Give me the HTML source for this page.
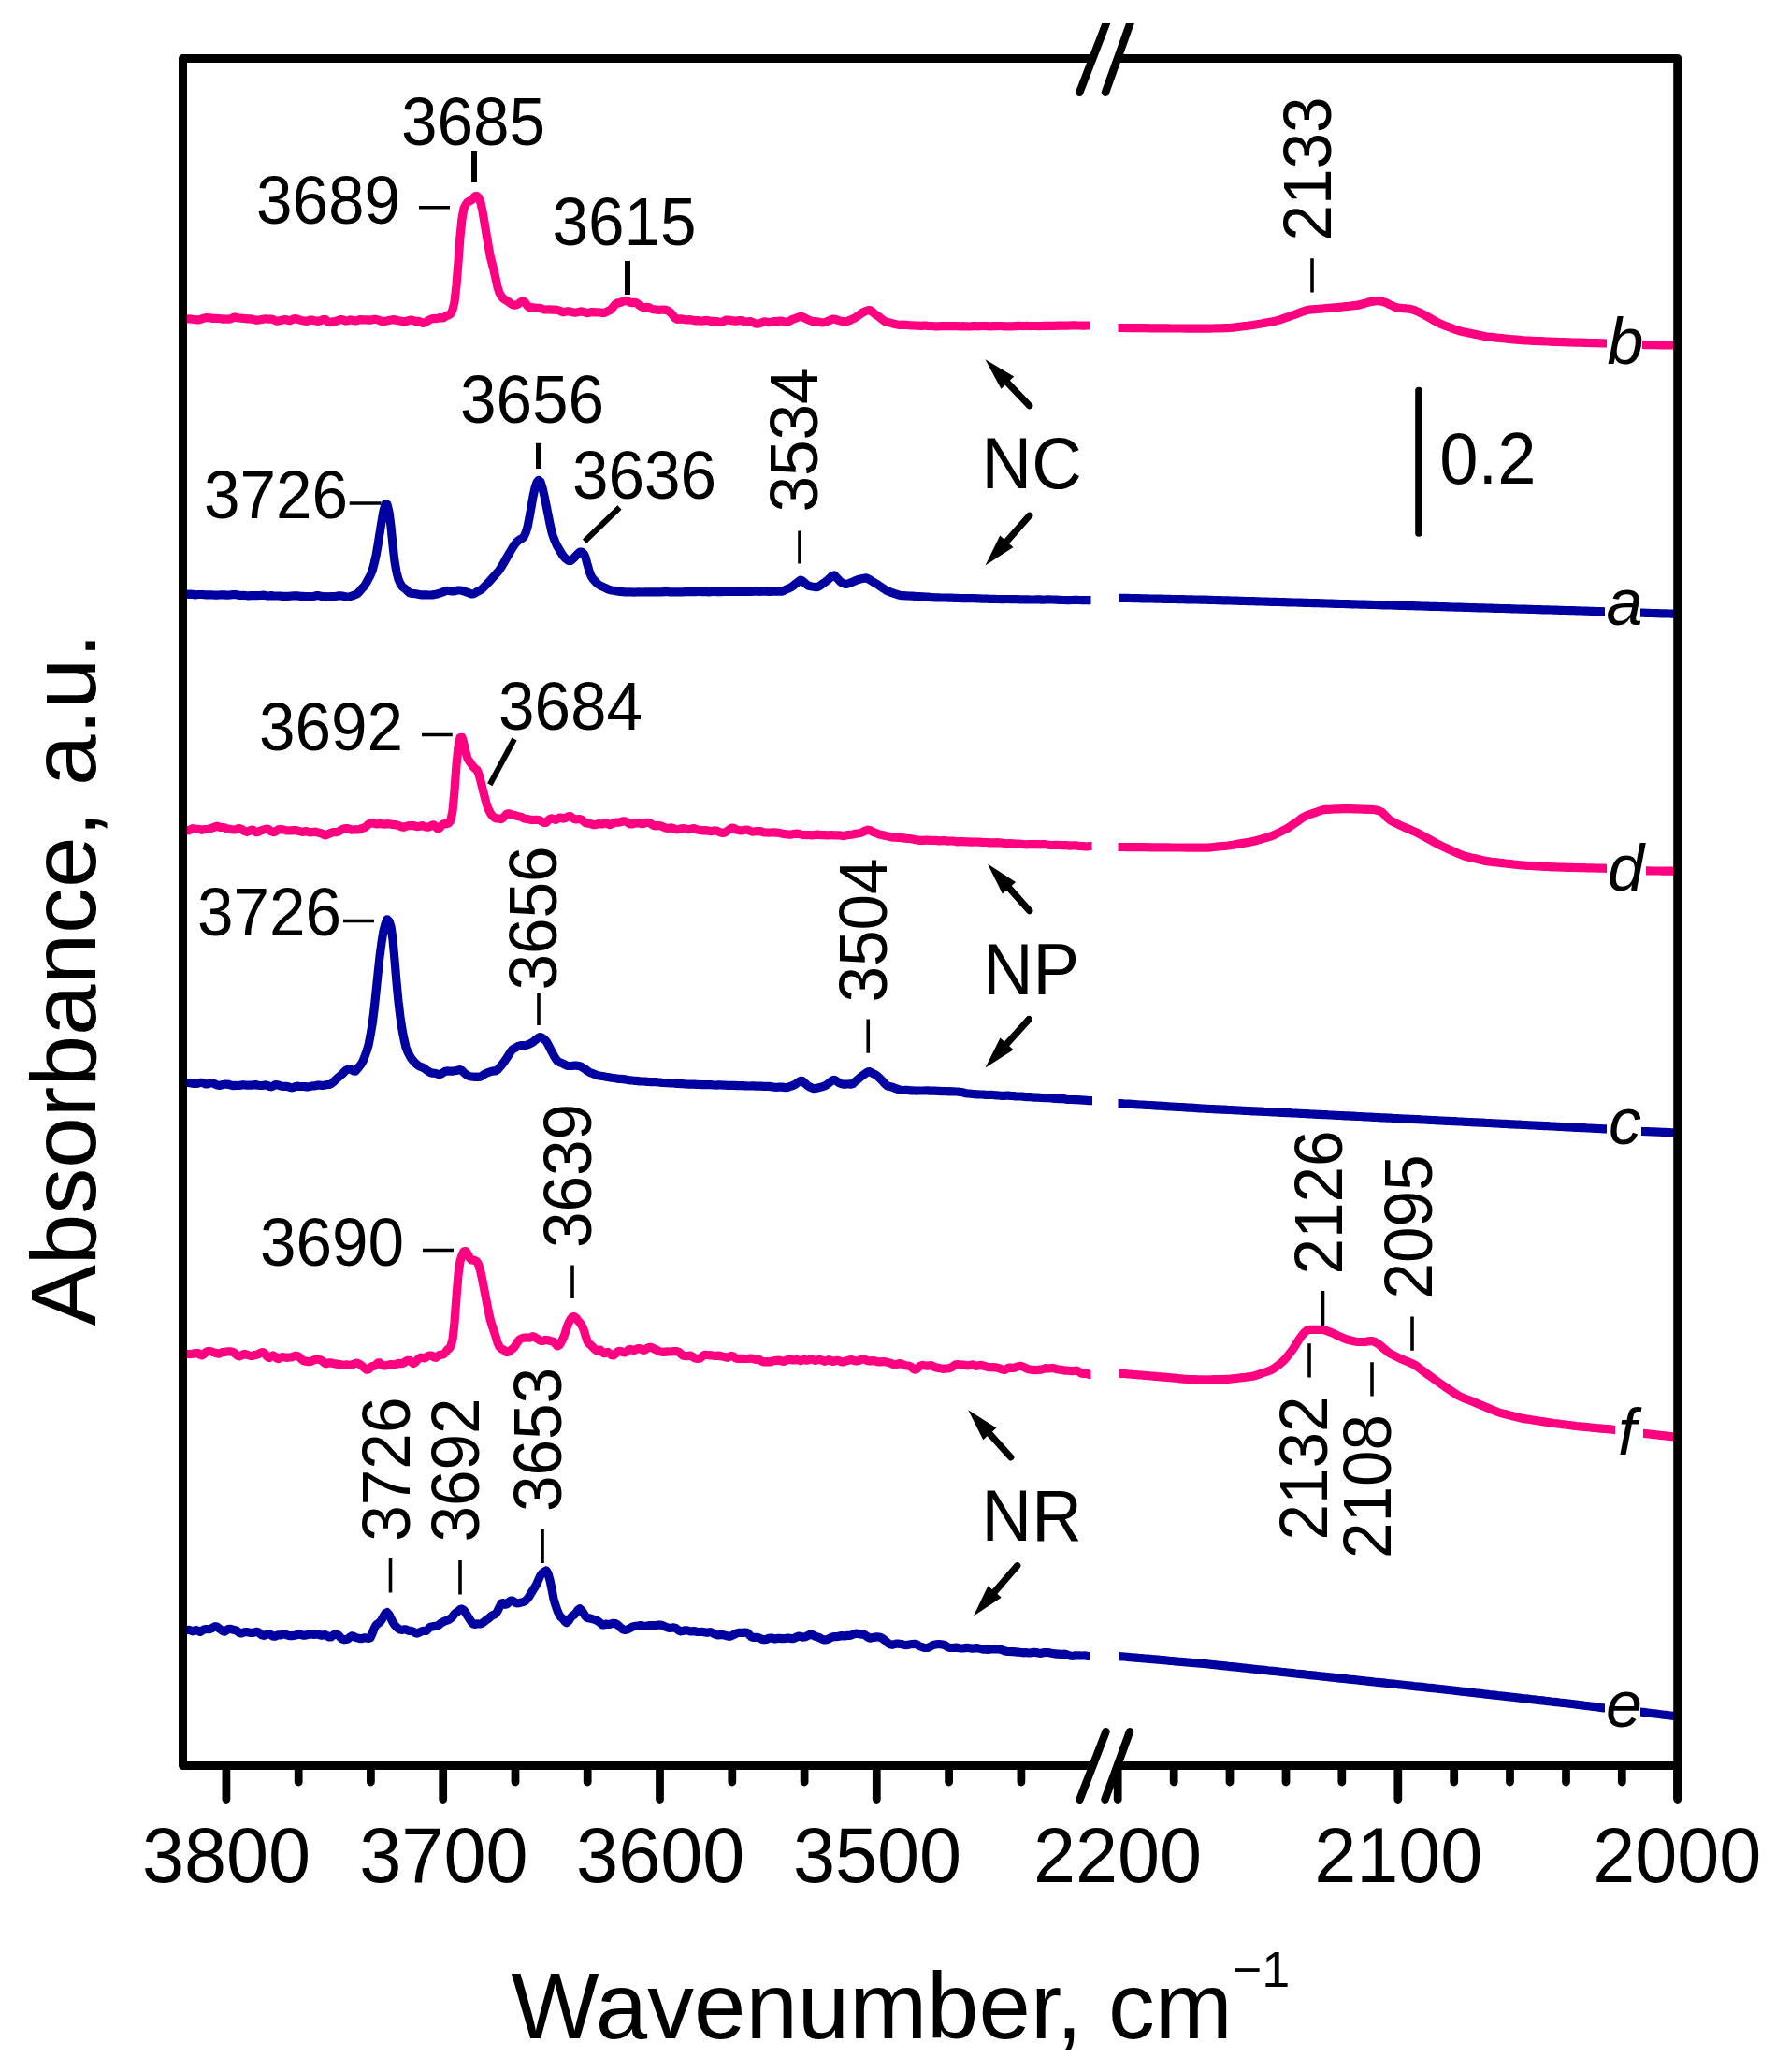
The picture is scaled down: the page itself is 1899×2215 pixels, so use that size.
<!DOCTYPE html>
<html lang="en"><head><meta charset="utf-8"><title>FTIR spectra</title>
<style>
html,body{margin:0;padding:0;background:#fff;}
svg{display:block;}
text{font-family:"Liberation Sans",Arial,Helvetica,sans-serif;fill:#000;}
.i{font-style:italic;}
.c{fill:none;stroke-width:9.2;stroke-linejoin:round;stroke-linecap:butt;}
.p{stroke:#ff0080;}
.b{stroke:#0000a0;}
.k{stroke:#000;fill:none;}
</style></head><body>
<svg width="1899" height="2215" viewBox="0 0 1899 2215" role="img" aria-label="FTIR spectra">
<rect x="0" y="0" width="1899" height="2215" fill="#fff"/>
<defs>
<clipPath id="clip-b"><rect x="200" y="0" width="965.5" height="2215"/><rect x="1195.5" y="0" width="522.5" height="2215"/><rect x="1756" y="0" width="34" height="2215"/></clipPath>
<clipPath id="clip-a"><rect x="200" y="0" width="966.5" height="2215"/><rect x="1196.5" y="0" width="519.5" height="2215"/><rect x="1754" y="0" width="36" height="2215"/></clipPath>
<clipPath id="clip-d"><rect x="200" y="0" width="967.5" height="2215"/><rect x="1195.5" y="0" width="522.5" height="2215"/><rect x="1760" y="0" width="30" height="2215"/></clipPath>
<clipPath id="clip-c"><rect x="200" y="0" width="968" height="2215"/><rect x="1195.5" y="0" width="522.5" height="2215"/><rect x="1755" y="0" width="35" height="2215"/></clipPath>
<clipPath id="clip-f"><rect x="200" y="0" width="966.5" height="2215"/><rect x="1196.5" y="0" width="530.5" height="2215"/><rect x="1757" y="0" width="33" height="2215"/></clipPath>
<clipPath id="clip-e"><rect x="200" y="0" width="965" height="2215"/><rect x="1196.5" y="0" width="519.5" height="2215"/><rect x="1754" y="0" width="36" height="2215"/></clipPath>
</defs>
<!-- spectrum b -->
<g clip-path="url(#clip-b)">
<polyline class="c p" points="195,341 200,341 202,340.8 204,341 206,341.3 208,341.5 210,341.8 212,341.9 214,341.5 216,340.8 218,340.1 220,339.6 222,339.7 224,339.8 226,340.1 228,340.4 230,340.4 232,340.4 234,340.5 236,340.8 238,341.1 240,341.2 242,341.2 244,341.1 246,341.1 248,340.3 250,339.1 252,339.2 254,339.8 256,340 258,340.2 260,340.3 262,340.5 264,340.9 266,340.9 268,340.9 270,341.2 272,341.8 274,342.2 276,342.1 278,341.8 280,341.4 282,341 284,340.8 286,341 288,341.2 290,341.1 292,341.5 294,342.5 296,343.2 298,343 300,342.5 302,342.1 304,341.7 306,341.7 308,342.3 310,342.8 312,342 314,340.9 316,340.7 318,341.1 320,341.8 322,342.4 324,342.9 326,343.2 328,343.3 330,342.6 332,342 334,342.2 336,342.7 338,343 340,343.4 342,343 344,342.1 346,341.5 348,341.7 350,343.3 352,344.6 354,344.3 356,343.8 358,343.7 360,343.1 362,342.3 364,341.7 366,341.6 368,342.5 370,343.1 372,342.7 374,341.9 376,342.1 378,342.7 380,342.9 382,342.6 384,341.9 386,341.6 388,342 390,341.9 392,341.8 394,342.2 396,342.2 398,341.7 400,341.4 402,341.4 404,341.9 406,342.8 408,343.3 410,343.4 412,343.3 414,343 416,342.5 418,342.1 420,341.7 422,341.7 424,342.2 426,342.7 428,343.1 430,343.5 432,343.6 434,343.5 436,343.1 438,342.3 440,342 442,342.7 444,343.4 446,343.4 448,343.4 450,344.3 452,345.3 454,345.1 456,343.9 458,342.6 460,341.6 462,340.8 464,340.4 466,340.6 468,340.2 470,339.6 472,339.9 474,339.8 476,338.5 478,337.3 480,336.6 482,335.3 484,331.1 486,322.7 488,304.7 490,280 492,252.8 494,233.6 496,222.8 498,218.7 500,216 502,214.9 504,214.1 506,212.1 508,209.7 510,209.7 512,211.6 514,216.7 516,226.1 518,238.1 520,249.9 522,261.8 524,273.1 526,281.2 528,288.8 530,297.6 532,307 534,313 536,316.6 538,319 540,320.4 542,321.6 544,322.8 546,324.4 548,325.8 550,326.1 552,325.9 554,325.1 556,323.6 558,322.2 560,322.1 562,324.1 564,326.9 566,328.6 568,328.7 570,328.8 572,329.2 574,329.4 576,329.3 578,329.4 580,330.2 582,331 584,331 586,330.8 588,330.9 590,331.1 592,331 594,331.1 596,331.5 598,331.9 600,332.9 602,333.7 604,333.4 606,332.9 608,332.8 610,333.2 612,333.7 614,334.1 616,334.1 618,333.6 620,333.1 622,332.9 624,333.3 626,334 628,334.6 630,334.3 632,333.6 634,333.6 636,333.9 638,333.9 640,333.8 642,334 644,334.5 646,334.4 648,333.6 650,332.5 652,331.7 654,330.2 656,327.7 658,325.3 660,323.9 662,323.8 664,323.2 666,322 668,321.4 670,321.6 672,322.3 674,323.3 676,323.6 678,323.4 680,323.5 682,324.8 684,326.7 686,328 688,328.7 690,328.8 692,328.3 694,328.8 696,330 698,330.7 700,330.8 702,331 704,331.4 706,331.3 708,331 710,331.1 712,331.4 714,332.1 716,333.2 718,335.2 720,337.7 722,340.2 724,341.3 726,341.1 728,340.9 730,341.1 732,341.6 734,341.8 736,341.8 738,341.7 740,342 742,342.6 744,342.9 746,342.7 748,342.8 750,343.1 752,343 754,342.5 756,342.4 758,342.8 760,343.4 762,343.3 764,343.3 766,343.7 768,343.9 770,344.3 772,344.3 774,343.3 776,342.2 778,342 780,342.3 782,342.6 784,342.8 786,343.1 788,343.1 790,342.7 792,342.5 794,343 796,343.8 798,344.1 800,343.8 802,343.5 804,344.1 806,345.1 808,346 810,346.1 812,345.8 814,345.2 816,344.3 818,343.8 820,344.3 822,344.8 824,344.5 826,343.9 828,343.7 830,343.6 832,343.3 834,343.1 836,343.2 838,343.7 840,344.1 842,344.1 844,343.4 846,342.2 848,341.2 850,340.5 852,339.8 854,338.9 856,338.3 858,338.7 860,339.7 862,340.8 864,341.7 866,342.5 868,343.3 870,343.7 872,343.8 874,343.9 876,344.2 878,344.6 880,344.8 882,344.5 884,343.8 886,343 888,342.1 890,341.2 892,341 894,341.7 896,342.4 898,342.9 900,343.3 902,343.7 904,343.9 906,343.4 908,342.7 910,341.8 912,340.9 914,339.9 916,338.6 918,337.2 920,335.7 922,334.4 924,333.2 926,332.4 928,331.8 930,331.5 932,332.7 934,334.5 936,336.1 938,337.4 940,338.8 942,340.4 944,342 946,343.4 948,344.1 950,344.6 952,345.2 954,345.8 956,346.3 958,346.7 960,347.1 962,347.3 964,347.3 966,347.2 968,347.3 970,347.5 972,347.7 974,347.8 976,347.9 978,348 980,348.1 982,348.2 984,348.3 986,348.3 988,348.2 990,348.2 992,348.4 994,348.5 996,348.5 998,348.7 1000,348.8 1002,348.9 1004,348.8 1006,348.7 1008,348.6 1010,348.6 1012,348.6 1014,348.6 1016,348.6 1018,348.6 1020,348.5 1022,348.6 1024,348.7 1026,348.8 1028,348.8 1030,348.7 1032,348.8 1034,348.9 1036,349 1038,348.9 1040,348.7 1042,348.7 1044,348.7 1046,348.8 1048,348.7 1050,348.5 1052,348.5 1054,348.6 1056,348.7 1058,348.8 1060,348.8 1062,348.7 1064,348.6 1066,348.6 1068,348.5 1070,348.5 1072,348.7 1074,348.8 1076,348.8 1078,348.9 1080,348.9 1082,348.8 1084,348.7 1086,348.6 1088,348.4 1090,348.3 1092,348.5 1094,348.6 1096,348.5 1098,348.4 1100,348.5 1102,348.6 1104,348.5 1106,348.5 1108,348.5 1110,348.6 1112,348.6 1114,348.5 1116,348.3 1118,348.3 1120,348.3 1122,348.3 1124,348.3 1126,348.3 1128,348.3 1130,348.2 1132,348.2 1134,348.2 1136,348.1 1138,348 1140,348.1 1142,348.1 1144,348 1146,347.9 1148,347.8 1150,347.9 1152,348 1154,348 1156,348.1 1158,348.1 1160,348.1 1162,348 1164,348 1165.5,348 1170.5,348"/>
<polyline class="c p" points="1190.5,350.5 1195.5,350.5 1198.5,350.5 1201.5,350.5 1204.5,350.6 1207.5,350.6 1210.5,350.6 1213.5,350.6 1216.5,350.7 1219.5,350.7 1222.5,350.7 1225.5,350.7 1228.5,350.8 1231.5,350.8 1234.5,350.8 1237.5,350.8 1240.5,350.9 1243.5,350.9 1246.5,350.9 1249.5,350.9 1252.5,351 1255.5,351 1258.5,351 1261.5,351 1264.5,351 1267.5,351.1 1270.5,351.1 1273.5,351.1 1276.5,351.1 1279.5,351.2 1282.5,351.2 1285.5,351.2 1288.5,351.2 1291.5,351.2 1294.5,351.1 1297.5,351 1300.5,350.9 1303.5,350.8 1306.5,350.8 1309.5,350.7 1312.5,350.6 1315.5,350.4 1318.5,350.1 1321.5,349.7 1324.5,349.4 1327.5,349 1330.5,348.6 1333.5,348.3 1336.5,347.9 1339.5,347.5 1342.5,347 1345.5,346.5 1348.5,346 1351.5,345.4 1354.5,344.9 1357.5,344.3 1360.5,343.8 1363.5,343.2 1366.5,342.4 1369.5,341.5 1372.5,340.4 1375.5,339.4 1378.5,338.4 1381.5,337.3 1384.5,336.2 1387.5,335.1 1390.5,333.9 1393.5,332.8 1396.5,331.8 1399.5,331.2 1402.5,330.9 1405.5,330.7 1408.5,330.5 1411.5,330.2 1414.5,330 1417.5,329.7 1420.5,329.4 1423.5,329.2 1426.5,328.8 1429.5,328.6 1432.5,328.3 1435.5,328 1438.5,327.7 1441.5,327.4 1444.5,327 1447.5,326.7 1450.5,326.4 1453.5,325.9 1456.5,325 1459.5,324.2 1462.5,323.3 1465.5,322.5 1468.5,322.1 1471.5,321.7 1474.5,321.6 1477.5,322.1 1480.5,323.1 1483.5,324.3 1486.5,325.8 1489.5,327.2 1492.5,328.4 1495.5,329 1498.5,329.3 1501.5,329.7 1504.5,330 1507.5,330.3 1510.5,330.9 1513.5,332.1 1516.5,333.4 1519.5,334.8 1522.5,336.4 1525.5,338.1 1528.5,339.8 1531.5,341.5 1534.5,343.2 1537.5,344.8 1540.5,346.3 1543.5,347.6 1546.5,348.7 1549.5,349.8 1552.5,350.9 1555.5,352.1 1558.5,353.1 1561.5,354 1564.5,354.7 1567.5,355.3 1570.5,355.9 1573.5,356.6 1576.5,357.2 1579.5,357.8 1582.5,358.4 1585.5,359.1 1588.5,359.7 1591.5,360.1 1594.5,360.4 1597.5,360.7 1600.5,361.1 1603.5,361.4 1606.5,361.7 1609.5,362 1612.5,362.3 1615.5,362.6 1618.5,362.8 1621.5,363.1 1624.5,363.4 1627.5,363.7 1630.5,363.9 1633.5,364 1636.5,364.2 1639.5,364.3 1642.5,364.5 1645.5,364.6 1648.5,364.7 1651.5,364.9 1654.5,365 1657.5,365.1 1660.5,365.3 1663.5,365.4 1666.5,365.5 1669.5,365.6 1672.5,365.7 1675.5,365.8 1678.5,365.9 1681.5,366 1684.5,366.1 1687.5,366.1 1690.5,366.2 1693.5,366.3 1696.5,366.4 1699.5,366.5 1702.5,366.6 1705.5,366.7 1708.5,366.7 1711.5,366.8 1714.5,366.9 1717.5,367 1720.5,367.1 1723.5,367.2 1726.5,367.4 1729.5,367.5 1732.5,367.6 1735.5,367.7 1738.5,367.8 1741.5,367.9 1744.5,368.1 1747.5,368.2 1750.5,368.3 1753.5,368.4 1756.5,368.5 1759.5,368.6 1762.5,368.6 1765.5,368.6 1768.5,368.7 1771.5,368.7 1774.5,368.8 1777.5,368.8 1780.5,368.9 1783.5,368.9 1786.5,368.9 1789.5,369 1790,369 1795,369"/>
</g>
<!-- spectrum a -->
<g clip-path="url(#clip-a)">
<polyline class="c b" points="195,635 200,635 202,635.4 204,635.2 206,635.3 208,635.8 210,635.8 212,635.5 214,635.5 216,635.5 218,635.7 220,635.8 222,635.8 224,635.8 226,635.8 228,636 230,636.2 232,636.2 234,636 236,635.8 238,635.8 240,635.9 242,636.1 244,636.2 246,636 248,635.7 250,635.5 252,635.6 254,636 256,636.4 258,636.5 260,636.4 262,636.5 264,636.8 266,636.8 268,636.6 270,636.6 272,636.7 274,636.7 276,636.6 278,636.5 280,636.3 282,636.2 284,636.6 286,637 288,636.9 290,636.7 292,636.9 294,637 296,637 298,637 300,637.2 302,637.4 304,637.3 306,637.3 308,637.3 310,637.2 312,637 314,636.9 316,636.8 318,636.9 320,637.2 322,637.4 324,637.3 326,637.5 328,637.5 330,637.5 332,637.5 334,637.5 336,637.2 338,636.7 340,636.6 342,637 344,637.4 346,637.7 348,637.8 350,637.7 352,637.8 354,637.7 356,637.6 358,637.5 360,637.2 362,636.9 364,636.8 366,637.1 368,637.5 370,637.9 372,638 374,637.7 376,637.1 378,636.4 380,635.6 382,634.7 384,632.8 386,630.4 388,628.2 390,625.9 392,622.5 394,618.7 396,615 398,610.3 400,602.9 402,594.2 404,582.9 406,570.3 408,557.7 410,546.2 412,539.2 414,539.3 416,547.4 418,562.6 420,582.7 422,600.1 424,611.6 426,619.4 428,623.8 430,627 432,628.6 434,630 436,632.1 438,633.9 440,634.4 442,634.5 444,634.7 446,635 448,635.4 450,635.8 452,635.8 454,635.8 456,635.9 458,636 460,636 462,635.9 464,635.6 466,635.3 468,634.8 470,634.2 472,633.5 474,632.7 476,631.9 478,631.4 480,631.5 482,631.8 484,632 486,631.8 488,631.3 490,631 492,631 494,631.3 496,632 498,632.7 500,633.2 502,634.1 504,634.8 506,635 508,634 510,632.6 512,631.5 514,630.6 516,629 518,627 520,625 522,622.9 524,620.8 526,618.5 528,616.2 530,614.1 532,611.8 534,609.3 536,606.2 538,602.8 540,599.4 542,595.9 544,592.4 546,589 548,585.7 550,582.5 552,580.1 554,578.1 556,576.7 558,575.7 560,574 562,569.8 564,563.5 566,553.5 568,542.2 570,530.8 572,521.7 574,515.7 576,513.3 578,515.2 580,521.6 582,530.1 584,539.9 586,549.8 588,559.9 590,569.1 592,575.1 594,580 596,584.2 598,587.5 600,590.8 602,594 604,596.4 606,598.1 608,599.5 610,599.5 612,598 614,596.1 616,594 618,591.9 620,590.1 622,590 624,591.7 626,595.6 628,603.3 630,610.2 632,615.7 634,618.9 636,621 638,623.1 640,624.9 642,626.1 644,627 646,627.9 648,628.8 650,629.9 652,630.5 654,631 656,631.3 658,631.7 660,632 662,632.3 664,632.4 666,632.6 668,632.8 670,632.9 672,633 674,632.9 676,633 678,633.1 680,633 682,632.9 684,632.9 686,633 688,633 690,632.9 692,632.8 694,632.8 696,632.8 698,632.9 700,632.9 702,632.9 704,632.9 706,632.9 708,632.8 710,632.6 712,632.6 714,632.7 716,632.8 718,632.8 720,632.8 722,632.8 724,632.8 726,632.8 728,632.8 730,632.8 732,632.7 734,632.6 736,632.6 738,632.7 740,632.6 742,632.6 744,632.6 746,632.5 748,632.5 750,632.6 752,632.6 754,632.6 756,632.7 758,632.8 760,632.6 762,632.5 764,632.5 766,632.6 768,632.7 770,632.7 772,632.6 774,632.5 776,632.5 778,632.5 780,632.5 782,632.5 784,632.5 786,632.4 788,632.4 790,632.4 792,632.3 794,632.3 796,632.3 798,632.4 800,632.4 802,632.4 804,632.3 806,632.2 808,632.2 810,632.2 812,632.3 814,632.2 816,632.1 818,632.1 820,632.2 822,632.3 824,632.3 826,632.1 828,632 830,632.1 832,632.1 834,632.1 836,632.1 838,631.4 840,630.4 842,629.5 844,628.7 846,627.7 848,626.3 850,624.7 852,623.1 854,621.5 856,620.2 858,620.9 860,622.6 862,624.4 864,626 866,626.6 868,627 870,627.3 872,627.6 874,627.6 876,626.6 878,625.3 880,623.8 882,622.4 884,620.9 886,619.2 888,617.3 890,615.4 892,614.9 894,616.8 896,619 898,621.2 900,622.7 902,623.8 904,624.6 906,624.2 908,623.5 910,622.7 912,621.9 914,621 916,620.1 918,619.5 920,619 922,618.6 924,618.2 926,617.9 928,618.6 930,619.8 932,621 934,622.3 936,623.5 938,624.6 940,626 942,627.3 944,628.7 946,630 948,631.3 950,632.2 952,632.9 954,633.7 956,634.4 958,635 960,635.8 962,636.3 964,636.6 966,636.7 968,636.9 970,636.9 972,637 974,637.1 976,637.2 978,637.3 980,637.5 982,637.7 984,637.7 986,637.8 988,637.9 990,638 992,638.1 994,638.3 996,638.6 998,638.7 1000,638.8 1002,638.8 1004,638.9 1006,639 1008,639 1010,639 1012,639 1014,639.1 1016,639.1 1018,639.2 1020,639.3 1022,639.4 1024,639.4 1026,639.5 1028,639.6 1030,639.6 1032,639.6 1034,639.7 1036,639.7 1038,639.7 1040,639.7 1042,639.7 1044,639.8 1046,639.8 1048,639.9 1050,640.1 1052,640.2 1054,640.2 1056,640.2 1058,640.3 1060,640.3 1062,640.4 1064,640.4 1066,640.5 1068,640.5 1070,640.6 1072,640.6 1074,640.6 1076,640.5 1078,640.5 1080,640.6 1082,640.7 1084,640.7 1086,640.7 1088,640.7 1090,640.8 1092,640.8 1094,640.8 1096,640.8 1098,640.8 1100,640.9 1102,641 1104,641 1106,641 1108,640.8 1110,640.8 1112,640.9 1114,641.1 1116,641.1 1118,641 1120,640.9 1122,640.9 1124,641 1126,641 1128,641.1 1130,641.2 1132,641.3 1134,641.4 1136,641.5 1138,641.5 1140,641.6 1142,641.6 1144,641.6 1146,641.5 1148,641.4 1150,641.4 1152,641.4 1154,641.5 1156,641.6 1158,641.7 1160,641.7 1162,641.7 1164,641.7 1166,641.7 1166.5,641.7 1171.5,641.7"/>
<polyline class="c b" points="1191.5,639.3 1196.5,639.3 1199.5,639.3 1202.5,639.4 1205.5,639.4 1208.5,639.5 1211.5,639.6 1214.5,639.6 1217.5,639.7 1220.5,639.8 1223.5,639.8 1226.5,639.9 1229.5,640 1232.5,640 1235.5,640.1 1238.5,640.1 1241.5,640.2 1244.5,640.3 1247.5,640.3 1250.5,640.4 1253.5,640.5 1256.5,640.5 1259.5,640.6 1262.5,640.7 1265.5,640.7 1268.5,640.8 1271.5,640.9 1274.5,640.9 1277.5,641 1280.5,641 1283.5,641.1 1286.5,641.2 1289.5,641.2 1292.5,641.3 1295.5,641.4 1298.5,641.5 1301.5,641.6 1304.5,641.7 1307.5,641.8 1310.5,641.9 1313.5,641.9 1316.5,642 1319.5,642.1 1322.5,642.2 1325.5,642.3 1328.5,642.4 1331.5,642.5 1334.5,642.6 1337.5,642.6 1340.5,642.7 1343.5,642.8 1346.5,642.9 1349.5,643 1352.5,643.1 1355.5,643.2 1358.5,643.3 1361.5,643.3 1364.5,643.4 1367.5,643.5 1370.5,643.6 1373.5,643.7 1376.5,643.8 1379.5,643.9 1382.5,644 1385.5,644 1388.5,644.1 1391.5,644.2 1394.5,644.3 1397.5,644.4 1400.5,644.5 1403.5,644.6 1406.5,644.7 1409.5,644.7 1412.5,644.8 1415.5,644.9 1418.5,645 1421.5,645.1 1424.5,645.2 1427.5,645.3 1430.5,645.4 1433.5,645.5 1436.5,645.5 1439.5,645.6 1442.5,645.7 1445.5,645.8 1448.5,645.9 1451.5,646 1454.5,646.1 1457.5,646.2 1460.5,646.2 1463.5,646.3 1466.5,646.4 1469.5,646.5 1472.5,646.6 1475.5,646.7 1478.5,646.8 1481.5,646.9 1484.5,646.9 1487.5,647 1490.5,647.1 1493.5,647.2 1496.5,647.3 1499.5,647.4 1502.5,647.5 1505.5,647.6 1508.5,647.6 1511.5,647.7 1514.5,647.8 1517.5,647.9 1520.5,648 1523.5,648.1 1526.5,648.2 1529.5,648.3 1532.5,648.3 1535.5,648.4 1538.5,648.5 1541.5,648.6 1544.5,648.7 1547.5,648.8 1550.5,648.9 1553.5,649 1556.5,649.1 1559.5,649.1 1562.5,649.2 1565.5,649.3 1568.5,649.4 1571.5,649.5 1574.5,649.6 1577.5,649.7 1580.5,649.8 1583.5,649.8 1586.5,649.9 1589.5,650 1592.5,650.1 1595.5,650.2 1598.5,650.3 1601.5,650.4 1604.5,650.5 1607.5,650.5 1610.5,650.6 1613.5,650.7 1616.5,650.8 1619.5,650.9 1622.5,651 1625.5,651.1 1628.5,651.2 1631.5,651.2 1634.5,651.3 1637.5,651.4 1640.5,651.5 1643.5,651.6 1646.5,651.7 1649.5,651.8 1652.5,651.9 1655.5,651.9 1658.5,652 1661.5,652.1 1664.5,652.2 1667.5,652.3 1670.5,652.4 1673.5,652.5 1676.5,652.6 1679.5,652.7 1682.5,652.7 1685.5,652.8 1688.5,652.9 1691.5,653 1694.5,653.1 1697.5,653.2 1700.5,653.3 1703.5,653.4 1706.5,653.5 1709.5,653.6 1712.5,653.7 1715.5,653.8 1718.5,653.9 1721.5,654 1724.5,654.1 1727.5,654.2 1730.5,654.3 1733.5,654.4 1736.5,654.5 1739.5,654.6 1742.5,654.7 1745.5,654.8 1748.5,654.9 1751.5,655 1754.5,655.1 1757.5,655.2 1760.5,655.3 1763.5,655.4 1766.5,655.5 1769.5,655.6 1772.5,655.7 1775.5,655.8 1778.5,655.8 1781.5,655.9 1784.5,656 1787.5,656.1 1790,656.2 1795,656.2"/>
</g>
<!-- spectrum d -->
<g clip-path="url(#clip-d)">
<polyline class="c p" points="195,887.5 200,887.5 202,887.8 204,886.7 206,885.7 208,886 210,886.3 212,886.3 214,886.7 216,887.2 218,886.8 220,886.5 222,886.5 224,886.1 226,885.3 228,884.7 230,883.8 232,883.2 234,883.9 236,884.5 238,884.5 240,884.8 242,885.6 244,886.1 246,886.4 248,886.7 250,887 252,886.9 254,886 256,885.5 258,886.3 260,887.5 262,888.7 264,889.3 266,888.7 268,887.5 270,887.1 272,888.2 274,889.7 276,889.4 278,888.3 280,887.5 282,886.9 284,886.3 286,886.1 288,887.2 290,888.8 292,889.6 294,889.3 296,887.8 298,886.5 300,886.5 302,886.8 304,887.2 306,887.8 308,888 310,887.9 312,887.8 314,887.6 316,887.5 318,888 320,888.6 322,889.2 324,889.3 326,888.7 328,888.6 330,889.5 332,889.9 334,889.5 336,889.2 338,889.4 340,890.1 342,890.5 344,891 346,892.1 348,892.8 350,892.2 352,891.2 354,890.3 356,889.6 358,889.5 360,889.6 362,889.1 364,887.7 366,886.6 368,886 370,885.5 372,885.6 374,886.5 376,887.3 378,887 380,886.7 382,886.8 384,886.6 386,885.9 388,885.2 390,884.6 392,883.1 394,881.1 396,880.1 398,880 400,880.2 402,880.8 404,880.8 406,880.5 408,880.6 410,881.1 412,881.1 414,880.7 416,880.8 418,881.1 420,881.3 422,881.5 424,882 426,882.4 428,883.2 430,884.1 432,884.2 434,883.4 436,882.9 438,882.7 440,882.6 442,882.5 444,883 446,883.6 448,883.5 450,882.8 452,882.7 454,883.5 456,884.2 458,884.1 460,883.4 462,882.1 464,881.9 466,884.1 468,886.1 470,885.2 472,882.7 474,881 476,880.6 478,880.6 480,879.7 482,876.9 484,866.7 486,844.8 488,817.7 490,798.2 492,788.6 494,788.3 496,795.2 498,803.9 500,811 502,814 504,816.7 506,819.7 508,821.6 510,823.1 512,827.6 514,835.2 516,843.2 518,851.1 520,858.7 522,864.4 524,868.6 526,871.6 528,873.6 530,874.8 532,874.8 534,875.3 536,875.6 538,874.2 540,872.1 542,870 544,869.7 546,870.5 548,871.1 550,871.5 552,872.1 554,872.7 556,873 558,873.7 560,874.9 562,875.3 564,875.5 566,876 568,876.4 570,876.5 572,876.3 574,876.3 576,876.5 578,877.3 580,878.6 582,879.5 584,879.3 586,877.2 588,875.4 590,874.9 592,875.6 594,876.3 596,875.6 598,874.2 600,874.1 602,875.1 604,874.8 606,873.6 608,872.7 610,872.7 612,874.2 614,875.6 616,876 618,875.7 620,875.6 622,876.3 624,878 626,879.6 628,880.1 630,880.2 632,880.8 634,881.6 636,881.7 638,881.2 640,880.5 642,880.8 644,880.9 646,880.1 648,879.8 650,880.9 652,881.6 654,880.9 656,879.7 658,879.2 660,879.2 662,879.2 664,878.6 666,877.9 668,877.9 670,878.5 672,879.9 674,881 676,881 678,880.4 680,879.8 682,879.6 684,880.1 686,880.7 688,880.5 690,879.7 692,879.3 694,879.6 696,880.6 698,882 700,882.9 702,882.7 704,882.5 706,882.8 708,883.4 710,884.2 712,885.1 714,885.6 716,885.1 718,884.9 720,885.5 722,886.4 724,886.9 726,886.4 728,885.8 730,885.7 732,885.8 734,886.2 736,886.7 738,886.5 740,885.8 742,885.6 744,886.4 746,887.1 748,887.4 750,887.7 752,887.9 754,887.7 756,887.8 758,888.3 760,888.7 762,888.4 764,887.8 766,888 768,888.9 770,889.8 772,890.3 774,890.3 776,889.3 778,888.1 780,886.6 782,885.3 784,885 786,886.1 788,887.1 790,887.6 792,887.8 794,887.6 796,887.3 798,887 800,887.3 802,888.3 804,889.1 806,889.1 808,888.7 810,888.6 812,888.6 814,888.9 816,889.6 818,889.9 820,890 822,890.2 824,890 826,889.9 828,889.9 830,890.1 832,890.2 834,890.6 836,891.1 838,891.5 840,891.7 842,892 844,892.2 846,892.1 848,891.6 850,891.3 852,891.2 854,891.4 856,891.9 858,892.3 860,892.5 862,892.6 864,892.5 866,892.6 868,892.8 870,892.7 872,892.3 874,892.1 876,892.3 878,892.6 880,892.6 882,892.6 884,892.8 886,892.8 888,892.7 890,892.7 892,892.8 894,892.9 896,892.8 898,892.8 900,893.4 902,893.6 904,893.2 906,892.5 908,892.3 910,892.3 912,892 914,891.5 916,891.1 918,890.8 920,890.4 922,889.8 924,888.7 926,887.8 928,887.2 930,887.5 932,888.6 934,889.6 936,890.3 938,891.1 940,891.9 942,892.3 944,892.8 946,893.3 948,893.7 950,894.1 952,894.7 954,895.1 956,895.2 958,895.2 960,895.3 962,895.4 964,895.7 966,895.9 968,896.2 970,896.3 972,896.5 974,896.7 976,897 978,897.5 980,897.9 982,898.1 984,898.3 986,898.4 988,898.3 990,898.2 992,898.2 994,898.3 996,898.3 998,898.3 1000,898.3 1002,898.6 1004,898.9 1006,898.8 1008,898.5 1010,898.6 1012,899 1014,899.1 1016,899 1018,899 1020,899.2 1022,899.6 1024,899.8 1026,899.6 1028,899.5 1030,899.6 1032,899.8 1034,899.8 1036,899.9 1038,900.1 1040,900.2 1042,900 1044,900 1046,900.1 1048,900.2 1050,900.4 1052,900.5 1054,900.5 1056,900.6 1058,900.8 1060,900.9 1062,900.9 1064,900.8 1066,900.7 1068,900.8 1070,901 1072,901.2 1074,901.5 1076,901.8 1078,901.7 1080,901.5 1082,901.7 1084,902 1086,902.2 1088,902.2 1090,902.2 1092,902.3 1094,902.5 1096,902.8 1098,902.8 1100,902.7 1102,902.6 1104,902.6 1106,902.6 1108,902.7 1110,902.7 1112,902.8 1114,902.7 1116,902.6 1118,902.7 1120,903 1122,903.3 1124,903.5 1126,903.5 1128,903.4 1130,903.3 1132,903.3 1134,903.5 1136,903.7 1138,903.6 1140,903.7 1142,903.9 1144,904.1 1146,904 1148,903.8 1150,903.8 1152,904.1 1154,904.3 1156,904.5 1158,904.7 1160,904.9 1162,905 1164,904.7 1166,904.5 1167.5,904.5 1172.5,904.5"/>
<polyline class="c p" points="1190.5,905.5 1195.5,905.5 1198.5,905.5 1201.5,905.5 1204.5,905.6 1207.5,905.6 1210.5,905.6 1213.5,905.6 1216.5,905.7 1219.5,905.7 1222.5,905.7 1225.5,905.7 1228.5,905.8 1231.5,905.8 1234.5,905.8 1237.5,905.8 1240.5,905.9 1243.5,905.9 1246.5,905.9 1249.5,905.9 1252.5,906 1255.5,906 1258.5,906 1261.5,906 1264.5,906 1267.5,906.1 1270.5,906.1 1273.5,906.1 1276.5,906.1 1279.5,906.2 1282.5,906.2 1285.5,906.2 1288.5,906.2 1291.5,906.1 1294.5,905.8 1297.5,905.5 1300.5,905.2 1303.5,904.9 1306.5,904.6 1309.5,904.3 1312.5,904 1315.5,903.6 1318.5,903.2 1321.5,902.6 1324.5,902.1 1327.5,901.6 1330.5,901.1 1333.5,900.6 1336.5,900.1 1339.5,899.5 1342.5,898.8 1345.5,897.9 1348.5,897.1 1351.5,896.2 1354.5,895.3 1357.5,894.4 1360.5,893.4 1363.5,892 1366.5,890.5 1369.5,889 1372.5,887.5 1375.5,886 1378.5,884.2 1381.5,882.1 1384.5,880 1387.5,877.9 1390.5,875.7 1393.5,873.7 1396.5,872.1 1399.5,870.9 1402.5,869.9 1405.5,868.8 1408.5,867.8 1411.5,866.7 1414.5,865.9 1417.5,865.4 1420.5,865.3 1423.5,865.2 1426.5,865 1429.5,864.9 1432.5,864.8 1435.5,864.7 1438.5,864.6 1441.5,864.6 1444.5,864.7 1447.5,864.8 1450.5,864.9 1453.5,865 1456.5,865.1 1459.5,865.2 1462.5,865.3 1465.5,865.4 1468.5,865.5 1471.5,866 1474.5,866.8 1477.5,868.2 1480.5,871 1483.5,874.3 1486.5,876.8 1489.5,878.5 1492.5,880 1495.5,881.5 1498.5,882.9 1501.5,884.2 1504.5,885.5 1507.5,886.8 1510.5,888.1 1513.5,889.4 1516.5,890.9 1519.5,892.5 1522.5,894.1 1525.5,895.8 1528.5,897.4 1531.5,899.1 1534.5,900.7 1537.5,902.4 1540.5,903.9 1543.5,905.3 1546.5,906.7 1549.5,908 1552.5,909.4 1555.5,910.7 1558.5,912.1 1561.5,913.4 1564.5,914.6 1567.5,915.6 1570.5,916.3 1573.5,917 1576.5,917.6 1579.5,918.3 1582.5,919 1585.5,919.7 1588.5,920.4 1591.5,920.9 1594.5,921.3 1597.5,921.6 1600.5,921.9 1603.5,922.3 1606.5,922.6 1609.5,923 1612.5,923.3 1615.5,923.6 1618.5,924 1621.5,924.3 1624.5,924.7 1627.5,925 1630.5,925.2 1633.5,925.3 1636.5,925.5 1639.5,925.6 1642.5,925.8 1645.5,926 1648.5,926.1 1651.5,926.3 1654.5,926.4 1657.5,926.6 1660.5,926.8 1663.5,926.9 1666.5,927 1669.5,927.1 1672.5,927.2 1675.5,927.3 1678.5,927.3 1681.5,927.4 1684.5,927.5 1687.5,927.6 1690.5,927.6 1693.5,927.7 1696.5,927.8 1699.5,927.9 1702.5,927.9 1705.5,928 1708.5,928.1 1711.5,928.2 1714.5,928.2 1717.5,928.3 1720.5,928.5 1723.5,928.7 1726.5,928.9 1729.5,929 1732.5,929.2 1735.5,929.4 1738.5,929.6 1741.5,929.8 1744.5,930 1747.5,930.1 1750.5,930.3 1753.5,930.5 1756.5,930.7 1759.5,930.8 1762.5,930.9 1765.5,931 1768.5,931 1771.5,931 1774.5,931 1777.5,931.1 1780.5,931.1 1783.5,931.1 1786.5,931.2 1789.5,931.2 1790,931.2 1795,931.2"/>
</g>
<!-- spectrum c -->
<g clip-path="url(#clip-c)">
<polyline class="c b" points="195,1157.5 200,1157.5 202,1157.5 204,1157.9 206,1158.2 208,1158.5 210,1158.5 212,1158 214,1157.4 216,1157.3 218,1158.1 220,1159 222,1158.9 224,1158.1 226,1157.6 228,1158.1 230,1159 232,1159.9 234,1160.4 236,1160.2 238,1159.6 240,1159.2 242,1159.1 244,1159.3 246,1159.8 248,1160.4 250,1160.6 252,1160.4 254,1160.5 256,1160.4 258,1160 260,1159.7 262,1160 264,1160.2 266,1160.1 268,1160.2 270,1160.1 272,1159.7 274,1159.7 276,1160.2 278,1160.5 280,1160.5 282,1160.2 284,1159.9 286,1160.4 288,1161.4 290,1161.8 292,1161 294,1159.9 296,1159.6 298,1160.2 300,1160.9 302,1161.3 304,1161.4 306,1161.3 308,1161.7 310,1162.4 312,1162.8 314,1162.4 316,1161.5 318,1161.2 320,1161.4 322,1161.5 324,1161.5 326,1161.6 328,1161.9 330,1161.9 332,1161.4 334,1160.9 336,1161 338,1160.6 340,1160 342,1160.1 344,1160.5 346,1160.4 348,1159.9 350,1159.5 352,1159.5 354,1158.6 356,1157.1 358,1155.2 360,1153.2 362,1151.5 364,1149.9 366,1148.1 368,1146 370,1144 372,1143.3 374,1143 376,1143.6 378,1144.9 380,1145.1 382,1142.9 384,1140.4 386,1137.9 388,1134.5 390,1129.3 392,1123.9 394,1117.3 396,1107 398,1095.3 400,1079.9 402,1060.8 404,1041.5 406,1022.8 408,1007.6 410,995.1 412,987.7 414,982.8 416,984.6 418,990.6 420,1004.3 422,1026.1 424,1049.9 426,1070.7 428,1087.4 430,1100.6 432,1110.9 434,1119.6 436,1124.6 438,1128.4 440,1131.8 442,1134.2 444,1136.3 446,1138.2 448,1139.6 450,1140.5 452,1141.2 454,1142.4 456,1143.9 458,1145.3 460,1146.5 462,1147.1 464,1147.2 466,1147.5 468,1148.2 470,1148.7 472,1148 474,1146.6 476,1145.3 478,1144.9 480,1145.1 482,1145.1 484,1145.1 486,1144.8 488,1144.4 490,1144 492,1143.6 494,1144.5 496,1146.6 498,1148.4 500,1149.7 502,1150.6 504,1150.9 506,1151.1 508,1151.3 510,1151.2 512,1151.4 514,1151 516,1149.8 518,1148.3 520,1147.3 522,1146.5 524,1145.8 526,1145.2 528,1144.9 530,1144.8 532,1143.6 534,1141.4 536,1139.1 538,1136.5 540,1133.8 542,1130.8 544,1127.6 546,1124.4 548,1121.9 550,1120.7 552,1119.6 554,1118.4 556,1117.9 558,1117.7 560,1117.7 562,1117.5 564,1116.9 566,1116.2 568,1115.2 570,1113.9 572,1112.2 574,1110.6 576,1109.1 578,1108.5 580,1109.6 582,1111.1 584,1113 586,1116.5 588,1120.4 590,1124.4 592,1128.1 594,1131.5 596,1134.2 598,1135.4 600,1136.2 602,1137 604,1138.2 606,1139.2 608,1139.5 610,1139.5 612,1139.4 614,1139.2 616,1139.1 618,1139.3 620,1139.7 622,1140.7 624,1141.9 626,1143.2 628,1144.7 630,1146.1 632,1147 634,1147.7 636,1148.5 638,1149.3 640,1150 642,1150.2 644,1150.5 646,1150.8 648,1151.2 650,1151.5 652,1151.9 654,1152.2 656,1152.5 658,1152.8 660,1153.1 662,1153.3 664,1153.4 666,1153.6 668,1153.8 670,1154.2 672,1154.6 674,1154.8 676,1155 678,1155.3 680,1155.4 682,1155.6 684,1155.8 686,1156 688,1156 690,1156.1 692,1156.3 694,1156.5 696,1156.6 698,1156.6 700,1156.6 702,1156.7 704,1157 706,1157.2 708,1157.4 710,1157.5 712,1157.6 714,1157.7 716,1157.8 718,1157.9 720,1158 722,1158.2 724,1158.4 726,1158.5 728,1158.6 730,1158.7 732,1158.8 734,1159 736,1159.1 738,1159.1 740,1159.1 742,1159.1 744,1159.3 746,1159.4 748,1159.5 750,1159.6 752,1159.7 754,1159.6 756,1159.6 758,1159.6 760,1159.7 762,1159.9 764,1160 766,1160.1 768,1159.9 770,1159.8 772,1160 774,1160.1 776,1160.2 778,1160.3 780,1160.4 782,1160.4 784,1160.4 786,1160.4 788,1160.6 790,1160.6 792,1160.6 794,1160.6 796,1160.8 798,1160.9 800,1161 802,1161 804,1160.9 806,1160.9 808,1161.1 810,1161.2 812,1161.2 814,1161.1 816,1161.3 818,1161.4 820,1161.4 822,1161.4 824,1161.6 826,1162 828,1162.2 830,1162.3 832,1162.2 834,1162 836,1162.1 838,1162.4 840,1162.7 842,1162.5 844,1161.7 846,1161.1 848,1160.4 850,1159.4 852,1158 854,1156.6 856,1155.4 858,1155.6 860,1157.3 862,1159.2 864,1160.9 866,1162.1 868,1162.9 870,1163.6 872,1163.5 874,1163.1 876,1162.6 878,1162.1 880,1161.6 882,1160.8 884,1159.6 886,1158.1 888,1156.5 890,1154.9 892,1154.3 894,1155.4 896,1156.8 898,1158 900,1158.8 902,1159.1 904,1159.2 906,1159 908,1158.9 910,1159.1 912,1158.5 914,1156.7 916,1154.9 918,1153.3 920,1151.6 922,1150 924,1148.6 926,1147.2 928,1145.9 930,1145.7 932,1146.8 934,1147.8 936,1148.8 938,1150.2 940,1152.1 942,1154.1 944,1156.1 946,1158.3 948,1160.3 950,1161.3 952,1161.6 954,1162.2 956,1162.9 958,1163.7 960,1164.4 962,1165.1 964,1165.5 966,1165.5 968,1165.3 970,1165.4 972,1165.7 974,1165.8 976,1165.9 978,1166 980,1166.1 982,1166 984,1166 986,1166 988,1166 990,1165.9 992,1165.9 994,1166.1 996,1166.2 998,1166.2 1000,1166.2 1002,1166.3 1004,1166.4 1006,1166.6 1008,1166.6 1010,1166.6 1012,1166.7 1014,1166.8 1016,1166.7 1018,1166.8 1020,1166.9 1022,1167 1024,1167.1 1026,1167.3 1028,1167.5 1030,1167.9 1032,1168.6 1034,1168.9 1036,1169 1038,1169.2 1040,1169.5 1042,1169.7 1044,1169.9 1046,1169.9 1048,1170 1050,1170 1052,1170.1 1054,1170.3 1056,1170.5 1058,1170.4 1060,1170.4 1062,1170.5 1064,1170.8 1066,1170.9 1068,1171 1070,1171.3 1072,1171.4 1074,1171.3 1076,1171.2 1078,1171.2 1080,1171.3 1082,1171.5 1084,1171.7 1086,1171.9 1088,1172 1090,1172 1092,1172 1094,1172.2 1096,1172.5 1098,1172.6 1100,1172.7 1102,1172.7 1104,1172.8 1106,1173.1 1108,1173.2 1110,1173.2 1112,1173.3 1114,1173.5 1116,1173.6 1118,1173.6 1120,1173.7 1122,1173.7 1124,1173.9 1126,1174.1 1128,1174.3 1130,1174.5 1132,1174.6 1134,1174.6 1136,1174.5 1138,1174.7 1140,1175.2 1142,1175.5 1144,1175.5 1146,1175.5 1148,1175.6 1150,1175.6 1152,1175.7 1154,1175.8 1156,1175.9 1158,1176.1 1160,1176.2 1162,1176.4 1164,1176.6 1166,1176.7 1168,1176.7 1173,1176.7"/>
<polyline class="c b" points="1190.5,1179.5 1195.5,1179.5 1198.5,1179.7 1201.5,1179.9 1204.5,1180 1207.5,1180.2 1210.5,1180.4 1213.5,1180.6 1216.5,1180.8 1219.5,1181 1222.5,1181.1 1225.5,1181.3 1228.5,1181.5 1231.5,1181.7 1234.5,1181.9 1237.5,1182.1 1240.5,1182.2 1243.5,1182.4 1246.5,1182.6 1249.5,1182.8 1252.5,1183 1255.5,1183.2 1258.5,1183.3 1261.5,1183.5 1264.5,1183.7 1267.5,1183.9 1270.5,1184.1 1273.5,1184.2 1276.5,1184.4 1279.5,1184.6 1282.5,1184.8 1285.5,1185 1288.5,1185.2 1291.5,1185.3 1294.5,1185.5 1297.5,1185.6 1300.5,1185.8 1303.5,1185.9 1306.5,1186.1 1309.5,1186.2 1312.5,1186.4 1315.5,1186.5 1318.5,1186.7 1321.5,1186.8 1324.5,1187 1327.5,1187.2 1330.5,1187.3 1333.5,1187.5 1336.5,1187.6 1339.5,1187.8 1342.5,1187.9 1345.5,1188.1 1348.5,1188.2 1351.5,1188.4 1354.5,1188.5 1357.5,1188.7 1360.5,1188.8 1363.5,1189 1366.5,1189.1 1369.5,1189.3 1372.5,1189.4 1375.5,1189.6 1378.5,1189.7 1381.5,1189.9 1384.5,1190 1387.5,1190.2 1390.5,1190.3 1393.5,1190.5 1396.5,1190.6 1399.5,1190.8 1402.5,1191 1405.5,1191.1 1408.5,1191.3 1411.5,1191.4 1414.5,1191.6 1417.5,1191.7 1420.5,1191.9 1423.5,1192 1426.5,1192.2 1429.5,1192.3 1432.5,1192.5 1435.5,1192.6 1438.5,1192.8 1441.5,1192.9 1444.5,1193.1 1447.5,1193.2 1450.5,1193.4 1453.5,1193.5 1456.5,1193.7 1459.5,1193.8 1462.5,1194 1465.5,1194.1 1468.5,1194.3 1471.5,1194.5 1474.5,1194.6 1477.5,1194.8 1480.5,1194.9 1483.5,1195.1 1486.5,1195.2 1489.5,1195.4 1492.5,1195.5 1495.5,1195.7 1498.5,1195.8 1501.5,1196 1504.5,1196.1 1507.5,1196.3 1510.5,1196.4 1513.5,1196.6 1516.5,1196.7 1519.5,1196.9 1522.5,1197 1525.5,1197.2 1528.5,1197.3 1531.5,1197.5 1534.5,1197.6 1537.5,1197.8 1540.5,1198 1543.5,1198.1 1546.5,1198.3 1549.5,1198.4 1552.5,1198.6 1555.5,1198.7 1558.5,1198.9 1561.5,1199 1564.5,1199.2 1567.5,1199.3 1570.5,1199.5 1573.5,1199.6 1576.5,1199.8 1579.5,1199.9 1582.5,1200.1 1585.5,1200.2 1588.5,1200.4 1591.5,1200.5 1594.5,1200.7 1597.5,1200.8 1600.5,1201 1603.5,1201.1 1606.5,1201.3 1609.5,1201.4 1612.5,1201.6 1615.5,1201.8 1618.5,1201.9 1621.5,1202.1 1624.5,1202.2 1627.5,1202.4 1630.5,1202.5 1633.5,1202.7 1636.5,1202.8 1639.5,1203 1642.5,1203.1 1645.5,1203.3 1648.5,1203.4 1651.5,1203.6 1654.5,1203.7 1657.5,1203.9 1660.5,1204 1663.5,1204.2 1666.5,1204.3 1669.5,1204.5 1672.5,1204.6 1675.5,1204.8 1678.5,1204.9 1681.5,1205.1 1684.5,1205.3 1687.5,1205.4 1690.5,1205.6 1693.5,1205.7 1696.5,1205.9 1699.5,1206 1702.5,1206.2 1705.5,1206.3 1708.5,1206.5 1711.5,1206.6 1714.5,1206.8 1717.5,1206.9 1720.5,1207.1 1723.5,1207.3 1726.5,1207.5 1729.5,1207.7 1732.5,1207.9 1735.5,1208.1 1738.5,1208.3 1741.5,1208.5 1744.5,1208.7 1747.5,1208.9 1750.5,1209.1 1753.5,1209.3 1756.5,1209.5 1759.5,1209.6 1762.5,1209.7 1765.5,1209.8 1768.5,1209.9 1771.5,1210.1 1774.5,1210.2 1777.5,1210.3 1780.5,1210.4 1783.5,1210.5 1786.5,1210.7 1789.5,1210.8 1790,1210.8 1795,1210.8"/>
</g>
<!-- spectrum f -->
<g clip-path="url(#clip-f)">
<polyline class="c p" points="195,1447.5 200,1447.5 202,1447.5 204,1447.6 206,1447.1 208,1446.8 210,1446.6 212,1446.7 214,1448.2 216,1448.9 218,1447.6 220,1445.7 222,1444.5 224,1444.4 226,1444.9 228,1445.6 230,1446.1 232,1446.8 234,1447.2 236,1446.3 238,1445.5 240,1445.3 242,1445.1 244,1444.9 246,1444.8 248,1445 250,1445.9 252,1447.6 254,1449.3 256,1449.8 258,1449.2 260,1447.8 262,1447.4 264,1448.2 266,1448.8 268,1449.4 270,1449.3 272,1448.6 274,1448.3 276,1447.6 278,1446.5 280,1445.7 282,1445.8 284,1447.9 286,1450.6 288,1451.5 290,1450.1 292,1449 294,1450 296,1452 298,1452.6 300,1451.2 302,1450.4 304,1450.9 306,1451.4 308,1451.2 310,1451 312,1450.8 314,1450 316,1449.2 318,1449.5 320,1450.7 322,1452.6 324,1454.5 326,1455.2 328,1455.2 330,1455.7 332,1455.5 334,1454.6 336,1453.9 338,1453 340,1452.9 342,1453.7 344,1454.5 346,1456 348,1457.7 350,1457.6 352,1456.8 354,1456.9 356,1457.5 358,1457.9 360,1458.1 362,1458.5 364,1458.7 366,1459.2 368,1459.4 370,1458.8 372,1459.1 374,1459.4 376,1459.1 378,1458.2 380,1457.4 382,1457.2 384,1458 386,1459.3 388,1461 390,1462.8 392,1464.2 394,1463.9 396,1461.9 398,1460.6 400,1460.3 402,1459.1 404,1456.9 406,1456.8 408,1458.9 410,1460 412,1459.9 414,1459.5 416,1459 418,1458.6 420,1458.9 422,1459.2 424,1458.2 426,1457.3 428,1457.6 430,1457.7 432,1456.7 434,1455.2 436,1454.3 438,1454.4 440,1456 442,1457.5 444,1456.4 446,1454.1 448,1452.2 450,1451.1 452,1451.6 454,1451.9 456,1450.6 458,1449.5 460,1449 462,1449.3 464,1450.9 466,1451.3 468,1449.7 470,1448.3 472,1448.3 474,1448 476,1446.1 478,1443.3 480,1441.8 482,1439 484,1431.8 486,1413.4 488,1386.3 490,1362.5 492,1348.1 494,1341.8 496,1337.8 498,1337.5 500,1340.3 502,1344.5 504,1346.9 506,1347 508,1347.6 510,1348.9 512,1352.7 514,1360 516,1369.5 518,1379.9 520,1390.1 522,1400.3 524,1409.7 526,1416.8 528,1422.5 530,1428.6 532,1435.5 534,1439.9 536,1441.7 538,1442.9 540,1444 542,1445.5 544,1445.2 546,1443.4 548,1441.9 550,1440.2 552,1436.8 554,1433.7 556,1431.6 558,1430.7 560,1430.3 562,1429.9 564,1430 566,1430.2 568,1429.4 570,1428.7 572,1429.5 574,1430.9 576,1432.2 578,1433.3 580,1433.5 582,1432.8 584,1432.4 586,1432.7 588,1433.4 590,1433.8 592,1434.4 594,1436.6 596,1438.8 598,1438.2 600,1434.8 602,1431 604,1425.9 606,1419.4 608,1414.1 610,1410.4 612,1408 614,1407.5 616,1408.9 618,1411.8 620,1414.1 622,1416.8 624,1421.2 626,1427.7 628,1433.7 630,1436.6 632,1438.3 634,1440.3 636,1442.2 638,1443.7 640,1443.4 642,1443.2 644,1445.2 646,1446.7 648,1445.8 650,1445.4 652,1447 654,1448.7 656,1448.8 658,1447.3 660,1445.4 662,1444.3 664,1444.5 666,1445.6 668,1446 670,1444.9 672,1443 674,1442.4 676,1443.1 678,1443.4 680,1442.7 682,1441.7 684,1441.6 686,1442.6 688,1443.4 690,1442.8 692,1441.2 694,1440.4 696,1440.4 698,1441.1 700,1442.2 702,1443.1 704,1444.1 706,1444.9 708,1445.4 710,1445.4 712,1445.1 714,1444.9 716,1445 718,1445 720,1444.6 722,1444.7 724,1444.7 726,1445.3 728,1447.3 730,1449 732,1449.5 734,1449.6 736,1449.4 738,1449 740,1449.9 742,1451.5 744,1452.2 746,1452.3 748,1452.2 750,1451 752,1449.1 754,1448.2 756,1448.5 758,1448.8 760,1448.7 762,1449 764,1449.5 766,1449.5 768,1449.1 770,1449.4 772,1450 774,1450.3 776,1450.9 778,1451.3 780,1450.4 782,1449.4 784,1449.9 786,1451.5 788,1452.4 790,1452.4 792,1452.4 794,1452.4 796,1452.5 798,1452.5 800,1452.4 802,1452.2 804,1452.2 806,1452.9 808,1453.4 810,1453.2 812,1453.6 814,1454.9 816,1455.8 818,1455.8 820,1455.6 822,1455.9 824,1455.8 826,1455.1 828,1454.6 830,1454.4 832,1454.2 834,1454.4 836,1455 838,1455.4 840,1454.7 842,1453.7 844,1453.2 846,1453.5 848,1454 850,1453.8 852,1453.3 854,1454 856,1454.7 858,1453.9 860,1453.4 862,1454.1 864,1453.9 866,1453.1 868,1453.1 870,1453.8 872,1454.4 874,1453.9 876,1453.3 878,1453.7 880,1454.7 882,1455.3 884,1454.5 886,1453.6 888,1454.2 890,1455.4 892,1455.2 894,1454.4 896,1454.3 898,1455.1 900,1455.8 902,1455.8 904,1455.2 906,1454.6 908,1454 910,1453.5 912,1453.9 914,1454.7 916,1455 918,1454.6 920,1453.6 922,1452.9 924,1453.2 926,1453.9 928,1454.7 930,1455.1 932,1454.7 934,1454.5 936,1455 938,1455.7 940,1455.9 942,1455.8 944,1455.7 946,1455.7 948,1456.1 950,1456.6 952,1457.1 954,1458 956,1458.9 958,1458.9 960,1458.1 962,1457.5 964,1458 966,1458.9 968,1459.7 970,1460 972,1460.2 974,1461.1 976,1462.8 978,1464.1 980,1463.7 982,1461.8 984,1460.2 986,1459.4 988,1459.7 990,1460.1 992,1460.2 994,1459.9 996,1459.7 998,1460.6 1000,1461.8 1002,1462.2 1004,1462.4 1006,1462.9 1008,1463.4 1010,1463.2 1012,1463 1014,1462.9 1016,1462.4 1018,1461.4 1020,1460 1022,1458.8 1024,1458.5 1026,1458.9 1028,1459.2 1030,1459.2 1032,1459.4 1034,1459.8 1036,1459.7 1038,1459.2 1040,1458.9 1042,1459.6 1044,1460.3 1046,1460 1048,1459.4 1050,1459.6 1052,1460.3 1054,1460.8 1056,1461.4 1058,1461.7 1060,1461.7 1062,1461.7 1064,1461.8 1066,1462.1 1068,1462.7 1070,1463.4 1072,1464.1 1074,1464.5 1076,1463.6 1078,1462.4 1080,1462.1 1082,1462.4 1084,1462.4 1086,1461.7 1088,1460.9 1090,1460.4 1092,1460.4 1094,1461.2 1096,1462.1 1098,1463.1 1100,1463.8 1102,1464.1 1104,1464.3 1106,1464.6 1108,1464.7 1110,1464.3 1112,1464.2 1114,1464.1 1116,1463.3 1118,1462.7 1120,1462.8 1122,1463 1124,1462.6 1126,1462.4 1128,1462.9 1130,1463.7 1132,1464.1 1134,1464.2 1136,1464.6 1138,1465 1140,1465.1 1142,1465.2 1144,1465.5 1146,1465.7 1148,1465.5 1150,1465.2 1152,1465.4 1154,1466.6 1156,1468 1158,1468.4 1160,1468.3 1162,1468.5 1164,1469.1 1166,1469.4 1166.5,1469.5 1171.5,1469.5"/>
<polyline class="c p" points="1191.5,1468.1 1196.5,1468.1 1199.5,1468.3 1202.5,1468.5 1205.5,1468.8 1208.5,1469 1211.5,1469.3 1214.5,1469.5 1217.5,1469.8 1220.5,1470 1223.5,1470.3 1226.5,1470.5 1229.5,1470.8 1232.5,1471 1235.5,1471.3 1238.5,1471.6 1241.5,1471.8 1244.5,1472.1 1247.5,1472.4 1250.5,1472.7 1253.5,1473 1256.5,1473.2 1259.5,1473.5 1262.5,1473.8 1265.5,1474.1 1268.5,1474.3 1271.5,1474.5 1274.5,1474.6 1277.5,1474.7 1280.5,1474.8 1283.5,1474.8 1286.5,1474.9 1289.5,1475 1292.5,1474.9 1295.5,1474.8 1298.5,1474.7 1301.5,1474.7 1304.5,1474.6 1307.5,1474.5 1310.5,1474.4 1313.5,1474.3 1316.5,1474 1319.5,1473.7 1322.5,1473.3 1325.5,1473 1328.5,1472.6 1331.5,1472.3 1334.5,1471.9 1337.5,1471.5 1340.5,1471 1343.5,1470.1 1346.5,1469.1 1349.5,1468 1352.5,1467 1355.5,1466 1358.5,1464.9 1361.5,1463.3 1364.5,1461.1 1367.5,1458.8 1370.5,1456.4 1373.5,1453.6 1376.5,1450 1379.5,1446.2 1382.5,1442.2 1385.5,1437.5 1388.5,1432.6 1391.5,1428.4 1394.5,1424.8 1397.5,1422.2 1400.5,1421.3 1403.5,1421.3 1406.5,1421.3 1409.5,1421.3 1412.5,1421.3 1415.5,1421.7 1418.5,1422.6 1421.5,1423.7 1424.5,1424.9 1427.5,1426.3 1430.5,1427.8 1433.5,1429.2 1436.5,1430.7 1439.5,1431.7 1442.5,1432.5 1445.5,1433.3 1448.5,1434 1451.5,1434.4 1454.5,1434.5 1457.5,1434.5 1460.5,1434.3 1463.5,1433.8 1466.5,1433.5 1469.5,1434.3 1472.5,1436 1475.5,1438.1 1478.5,1440.6 1481.5,1443.2 1484.5,1445.6 1487.5,1447.5 1490.5,1449 1493.5,1450.5 1496.5,1452 1499.5,1453.3 1502.5,1454.6 1505.5,1455.8 1508.5,1457.1 1511.5,1458.5 1514.5,1460.3 1517.5,1462.5 1520.5,1464.7 1523.5,1467 1526.5,1469.2 1529.5,1471.4 1532.5,1473.6 1535.5,1475.7 1538.5,1477.9 1541.5,1480 1544.5,1482.1 1547.5,1484.2 1550.5,1486.2 1553.5,1488.2 1556.5,1490.2 1559.5,1492 1562.5,1493.5 1565.5,1494.7 1568.5,1495.9 1571.5,1497.1 1574.5,1498.3 1577.5,1499.5 1580.5,1500.8 1583.5,1502 1586.5,1503.3 1589.5,1504.5 1592.5,1505.8 1595.5,1507.1 1598.5,1508.3 1601.5,1509.5 1604.5,1510.5 1607.5,1511.2 1610.5,1512 1613.5,1512.8 1616.5,1513.5 1619.5,1514.3 1622.5,1515 1625.5,1515.7 1628.5,1516.4 1631.5,1516.9 1634.5,1517.3 1637.5,1517.8 1640.5,1518.2 1643.5,1518.7 1646.5,1519.2 1649.5,1519.6 1652.5,1520.1 1655.5,1520.5 1658.5,1521 1661.5,1521.5 1664.5,1521.9 1667.5,1522.3 1670.5,1522.7 1673.5,1523 1676.5,1523.4 1679.5,1523.7 1682.5,1524.1 1685.5,1524.5 1688.5,1524.8 1691.5,1525.1 1694.5,1525.4 1697.5,1525.7 1700.5,1526 1703.5,1526.3 1706.5,1526.5 1709.5,1526.8 1712.5,1527.1 1715.5,1527.4 1718.5,1527.6 1721.5,1527.9 1724.5,1528.2 1727.5,1528.6 1730.5,1528.9 1733.5,1529.3 1736.5,1529.7 1739.5,1530.1 1742.5,1530.5 1745.5,1530.8 1748.5,1531.2 1751.5,1531.6 1754.5,1532 1757.5,1532.3 1760.5,1532.7 1763.5,1533 1766.5,1533.4 1769.5,1533.7 1772.5,1534 1775.5,1534.4 1778.5,1534.7 1781.5,1535 1784.5,1535.4 1787.5,1535.7 1790,1535.9 1795,1535.9"/>
</g>
<!-- spectrum e -->
<g clip-path="url(#clip-e)">
<polyline class="c b" points="195,1742.5 200,1742.5 202,1742.3 204,1743 206,1743.8 208,1742.9 210,1742.5 212,1743.6 214,1744.4 216,1743.3 218,1741.9 220,1741.5 222,1741.7 224,1741.7 226,1741 228,1739.8 230,1738.7 232,1739.1 234,1740.7 236,1742 238,1743.4 240,1744.1 242,1743 244,1741.5 246,1741.3 248,1741.8 250,1742.4 252,1742.8 254,1743.9 256,1745.6 258,1746 260,1745.2 262,1744.6 264,1744.6 266,1745 268,1745.4 270,1745.5 272,1745 274,1744.3 276,1744.7 278,1746.3 280,1747.9 282,1748.4 284,1747.9 286,1746.7 288,1746.5 290,1747.8 292,1749.1 294,1749.2 296,1748.3 298,1747.8 300,1747.8 302,1747.2 304,1746.8 306,1747.5 308,1748.3 310,1748.6 312,1748.6 314,1748.4 316,1748 318,1747.5 320,1747.2 322,1747.6 324,1748.2 326,1748.2 328,1747.8 330,1747.3 332,1747 334,1747.2 336,1747.3 338,1747.2 340,1747.2 342,1747.7 344,1748.2 346,1747.9 348,1747.7 350,1748.8 352,1750 354,1749.8 356,1748.2 358,1747 360,1747.1 362,1748.1 364,1750.3 366,1752.1 368,1752.7 370,1752.5 372,1752 374,1750.3 376,1748.9 378,1749.2 380,1750.4 382,1750.9 384,1751.4 386,1751.7 388,1751.3 390,1750.8 392,1750.9 394,1751.5 396,1750.7 398,1746.4 400,1741.1 402,1737.3 404,1735.7 406,1734.3 408,1731.7 410,1728 412,1724.8 414,1723.6 416,1726 418,1730.1 420,1734.1 422,1737.2 424,1739.3 426,1741 428,1742.1 430,1742.5 432,1741.8 434,1741.9 436,1743 438,1743.5 440,1743.4 442,1744.2 444,1745.6 446,1746.1 448,1745.2 450,1744.2 452,1743.4 454,1743.5 456,1743.3 458,1741.3 460,1739.3 462,1738.9 464,1738.6 466,1738.3 468,1738 470,1736.5 472,1734.8 474,1733.8 476,1732.9 478,1732.2 480,1731.3 482,1730 484,1728 486,1725.4 488,1723.6 490,1722.4 492,1720.5 494,1720 496,1721.3 498,1724.1 500,1727.6 502,1730.7 504,1733.7 506,1736.1 508,1736.5 510,1735.8 512,1736 514,1735.9 516,1735 518,1733.4 520,1731.8 522,1730.4 524,1728.7 526,1727.1 528,1726.3 530,1725.1 532,1722.3 534,1718 536,1714 538,1713.6 540,1715.3 542,1714.8 544,1712.6 546,1711.1 548,1711.2 550,1712.5 552,1713.6 554,1713.8 556,1713.4 558,1712.8 560,1712.4 562,1711.2 564,1709.1 566,1706.3 568,1702.9 570,1699.6 572,1696.7 574,1692.9 576,1688.3 578,1683.9 580,1681.6 582,1680.1 584,1678.9 586,1682.2 588,1689.2 590,1698.8 592,1709.2 594,1716.1 596,1721.8 598,1726.6 600,1728.9 602,1730.7 604,1733.2 606,1734.7 608,1732.9 610,1729.6 612,1727.4 614,1726.3 616,1724 618,1721 620,1719.7 622,1721.7 624,1724.6 626,1727.9 628,1729.7 630,1729.8 632,1730.3 634,1730.9 636,1731.4 638,1732.2 640,1733.4 642,1735.2 644,1736.8 646,1736.9 648,1736.2 650,1736.3 652,1736.3 654,1735.7 656,1735.3 658,1735.5 660,1736.6 662,1738.4 664,1740.3 666,1741.8 668,1742.5 670,1742.2 672,1741.5 674,1740.4 676,1739.2 678,1738.6 680,1738.3 682,1738 684,1737.7 686,1737.7 688,1738.2 690,1738.5 692,1738.1 694,1737.6 696,1737.5 698,1737.5 700,1737.7 702,1737.5 704,1737.1 706,1737.1 708,1737.5 710,1738.3 712,1739.3 714,1740.1 716,1740.5 718,1740.2 720,1739.9 722,1740.2 724,1741.5 726,1743.1 728,1743.8 730,1743.5 732,1742.9 734,1742.8 736,1743.2 738,1743.8 740,1743.8 742,1743.6 744,1744 746,1744.5 748,1744.5 750,1744.3 752,1744.5 754,1745 756,1745.3 758,1744.8 760,1744.7 762,1745.6 764,1746.7 766,1747.5 768,1747.9 770,1747.7 772,1747.6 774,1747.9 776,1748.4 778,1749 780,1749.3 782,1748.8 784,1747.7 786,1746.8 788,1745.9 790,1745.4 792,1745.3 794,1745.3 796,1745.1 798,1745 800,1746.1 802,1748.5 804,1750.1 806,1750.5 808,1750.4 810,1750.3 812,1751 814,1752 816,1752.6 818,1752.7 820,1752.2 822,1751.3 824,1751 826,1751.2 828,1751.8 830,1751.8 832,1751.3 834,1751.3 836,1751.7 838,1751.7 840,1751.5 842,1751.1 844,1751.1 846,1751.6 848,1751.7 850,1751 852,1749.8 854,1749 856,1749.4 858,1750.1 860,1750 862,1749.4 864,1748.4 866,1747.3 868,1747.3 870,1748.4 872,1749.4 874,1749.9 876,1750.6 878,1751.6 880,1752.5 882,1753 884,1752.7 886,1751.9 888,1750.9 890,1750 892,1749.6 894,1749.7 896,1749.5 898,1748.9 900,1748.6 902,1748.9 904,1748.8 906,1748.4 908,1748.3 910,1748.1 912,1747.3 914,1746.4 916,1746.2 918,1746.5 920,1746.9 922,1747.1 924,1747.3 926,1748.6 928,1750.2 930,1751.1 932,1750.9 934,1750.4 936,1750.1 938,1749.9 940,1750 942,1750.6 944,1751.8 946,1753.4 948,1755.2 950,1756.8 952,1757.8 954,1758.3 956,1757.8 958,1757.2 960,1757.2 962,1757.3 964,1757.5 966,1758.1 968,1758.6 970,1758.5 972,1758 974,1757.7 976,1757.6 978,1757.3 980,1757.8 982,1759 984,1760 986,1760.7 988,1761.3 990,1761.5 992,1761.3 994,1760.6 996,1759.4 998,1758.5 1000,1758.1 1002,1757.7 1004,1757.5 1006,1757.8 1008,1758.1 1010,1758.5 1012,1759.7 1014,1761.1 1016,1761.5 1018,1761.5 1020,1761.3 1022,1761.2 1024,1761.4 1026,1761.7 1028,1762 1030,1762 1032,1761.6 1034,1761.4 1036,1761.5 1038,1761.9 1040,1762.1 1042,1761.9 1044,1761.7 1046,1761.9 1048,1762.4 1050,1762.9 1052,1763.1 1054,1763.2 1056,1763.3 1058,1763.1 1060,1762.8 1062,1762.7 1064,1762.8 1066,1762.8 1068,1762.9 1070,1763.3 1072,1763.9 1074,1764.7 1076,1765.2 1078,1765.5 1080,1765.5 1082,1765.6 1084,1765.7 1086,1765.9 1088,1766.1 1090,1766.2 1092,1766.5 1094,1766.8 1096,1766.7 1098,1766.7 1100,1767 1102,1767 1104,1766.6 1106,1766.3 1108,1766.5 1110,1767 1112,1767.3 1114,1767.1 1116,1766.7 1118,1766.5 1120,1766.5 1122,1766.8 1124,1767.2 1126,1767.5 1128,1767.9 1130,1768.1 1132,1768.2 1134,1768.4 1136,1768.3 1138,1768.2 1140,1768.6 1142,1769.3 1144,1769.9 1146,1770.3 1148,1770.1 1150,1769.8 1152,1769.8 1154,1769.8 1156,1770 1158,1770 1160,1769.9 1162,1770.2 1164,1770.5 1165,1770.5 1170,1770.5"/>
<polyline class="c b" points="1191.5,1770.6 1196.5,1770.6 1199.5,1770.8 1202.5,1771 1205.5,1771.3 1208.5,1771.6 1211.5,1771.8 1214.5,1772.1 1217.5,1772.4 1220.5,1772.6 1223.5,1772.9 1226.5,1773.1 1229.5,1773.4 1232.5,1773.7 1235.5,1773.9 1238.5,1774.2 1241.5,1774.5 1244.5,1774.7 1247.5,1775 1250.5,1775.3 1253.5,1775.5 1256.5,1775.8 1259.5,1776.1 1262.5,1776.3 1265.5,1776.6 1268.5,1776.9 1271.5,1777.1 1274.5,1777.4 1277.5,1777.6 1280.5,1777.9 1283.5,1778.2 1286.5,1778.4 1289.5,1778.7 1292.5,1779 1295.5,1779.3 1298.5,1779.7 1301.5,1780 1304.5,1780.3 1307.5,1780.6 1310.5,1780.9 1313.5,1781.3 1316.5,1781.6 1319.5,1781.9 1322.5,1782.2 1325.5,1782.5 1328.5,1782.9 1331.5,1783.2 1334.5,1783.5 1337.5,1783.8 1340.5,1784.2 1343.5,1784.5 1346.5,1784.8 1349.5,1785.1 1352.5,1785.4 1355.5,1785.8 1358.5,1786.1 1361.5,1786.4 1364.5,1786.7 1367.5,1787 1370.5,1787.4 1373.5,1787.7 1376.5,1788 1379.5,1788.3 1382.5,1788.6 1385.5,1789 1388.5,1789.3 1391.5,1789.6 1394.5,1789.9 1397.5,1790.3 1400.5,1790.6 1403.5,1790.9 1406.5,1791.2 1409.5,1791.5 1412.5,1791.9 1415.5,1792.2 1418.5,1792.5 1421.5,1792.8 1424.5,1793.1 1427.5,1793.5 1430.5,1793.8 1433.5,1794.1 1436.5,1794.4 1439.5,1794.7 1442.5,1795.1 1445.5,1795.4 1448.5,1795.7 1451.5,1796 1454.5,1796.4 1457.5,1796.7 1460.5,1797 1463.5,1797.3 1466.5,1797.6 1469.5,1798 1472.5,1798.3 1475.5,1798.6 1478.5,1798.9 1481.5,1799.2 1484.5,1799.6 1487.5,1799.9 1490.5,1800.2 1493.5,1800.5 1496.5,1800.8 1499.5,1801.2 1502.5,1801.5 1505.5,1801.8 1508.5,1802.1 1511.5,1802.5 1514.5,1802.8 1517.5,1803.1 1520.5,1803.4 1523.5,1803.7 1526.5,1804.1 1529.5,1804.4 1532.5,1804.7 1535.5,1805 1538.5,1805.3 1541.5,1805.7 1544.5,1806 1547.5,1806.4 1550.5,1806.7 1553.5,1807 1556.5,1807.4 1559.5,1807.7 1562.5,1808.1 1565.5,1808.4 1568.5,1808.7 1571.5,1809.1 1574.5,1809.4 1577.5,1809.8 1580.5,1810.1 1583.5,1810.4 1586.5,1810.8 1589.5,1811.1 1592.5,1811.5 1595.5,1811.8 1598.5,1812.1 1601.5,1812.5 1604.5,1812.8 1607.5,1813.2 1610.5,1813.5 1613.5,1813.8 1616.5,1814.2 1619.5,1814.5 1622.5,1814.9 1625.5,1815.2 1628.5,1815.6 1631.5,1815.9 1634.5,1816.2 1637.5,1816.6 1640.5,1816.9 1643.5,1817.3 1646.5,1817.6 1649.5,1817.9 1652.5,1818.3 1655.5,1818.6 1658.5,1819 1661.5,1819.3 1664.5,1819.6 1667.5,1820 1670.5,1820.3 1673.5,1820.7 1676.5,1821 1679.5,1821.4 1682.5,1821.7 1685.5,1822.1 1688.5,1822.5 1691.5,1822.9 1694.5,1823.3 1697.5,1823.6 1700.5,1824 1703.5,1824.4 1706.5,1824.8 1709.5,1825.2 1712.5,1825.6 1715.5,1825.9 1718.5,1826.3 1721.5,1826.6 1724.5,1826.9 1727.5,1827.2 1730.5,1827.5 1733.5,1827.8 1736.5,1828.2 1739.5,1828.5 1742.5,1828.8 1745.5,1829.1 1748.5,1829.4 1751.5,1829.7 1754.5,1830.1 1757.5,1830.4 1760.5,1830.8 1763.5,1831.2 1766.5,1831.6 1769.5,1831.9 1772.5,1832.3 1775.5,1832.7 1778.5,1833.1 1781.5,1833.4 1784.5,1833.8 1787.5,1834.2 1790,1834.4 1795,1834.4"/>
</g>
<g class="k" stroke-width="9" stroke-linecap="butt" stroke-linejoin="round">
<path d="M1168.5,62.5 L195.5,62.5 L195.5,1887.5 L1168.5,1887.5"/>
<path d="M1195,62.5 L1793.7,62.5 L1793.7,1923.5"/>
<path d="M1195,1887.5 L1793.7,1887.5"/>
</g>
<defs><clipPath id="clip-top"><rect x="1100" y="25" width="200" height="120"/></clipPath></defs>
<g class="k" stroke-width="8.5" stroke-linecap="round">
<g clip-path="url(#clip-top)">
<line x1="1154.3" y1="98.75" x2="1187.9" y2="11.75"/>
<line x1="1182" y1="98.75" x2="1213.2" y2="11.75"/>
</g>
<line x1="1154.5" y1="1923.75" x2="1182.5" y2="1851.25"/>
<line x1="1181.5" y1="1923.75" x2="1208" y2="1851.25"/>
</g>
<g class="k" stroke-width="8.75" stroke-linecap="round">
<line x1="241.9" y1="1887.5" x2="241.9" y2="1923.5"/>
<line x1="319.2" y1="1887.5" x2="319.2" y2="1905"/>
<line x1="396.4" y1="1887.5" x2="396.4" y2="1905"/>
<line x1="473.7" y1="1887.5" x2="473.7" y2="1923.5"/>
<line x1="551" y1="1887.5" x2="551" y2="1905"/>
<line x1="628.2" y1="1887.5" x2="628.2" y2="1905"/>
<line x1="705.5" y1="1887.5" x2="705.5" y2="1923.5"/>
<line x1="782.8" y1="1887.5" x2="782.8" y2="1905"/>
<line x1="860.1" y1="1887.5" x2="860.1" y2="1905"/>
<line x1="937.3" y1="1887.5" x2="937.3" y2="1923.5"/>
<line x1="1014.6" y1="1887.5" x2="1014.6" y2="1905"/>
<line x1="1091.9" y1="1887.5" x2="1091.9" y2="1905"/>
<line x1="1195.2" y1="1887.5" x2="1195.2" y2="1923.5"/>
<line x1="1255.2" y1="1887.5" x2="1255.2" y2="1905"/>
<line x1="1315" y1="1887.5" x2="1315" y2="1905"/>
<line x1="1375" y1="1887.5" x2="1375" y2="1905"/>
<line x1="1434.8" y1="1887.5" x2="1434.8" y2="1905"/>
<line x1="1494.8" y1="1887.5" x2="1494.8" y2="1923.5"/>
<line x1="1554.7" y1="1887.5" x2="1554.7" y2="1905"/>
<line x1="1614.5" y1="1887.5" x2="1614.5" y2="1905"/>
<line x1="1674.5" y1="1887.5" x2="1674.5" y2="1905"/>
<line x1="1734.3" y1="1887.5" x2="1734.3" y2="1905"/>
<line x1="1793.7" y1="1887.5" x2="1793.7" y2="1923.5"/>
</g>
<g font-size="81" text-anchor="middle">
<text transform="translate(242,2011.5) scale(1,1.02)">3800</text>
<text transform="translate(474.4,2011.5) scale(1,1.02)">3700</text>
<text transform="translate(706.2,2011.5) scale(1,1.02)">3600</text>
<text transform="translate(938,2011.5) scale(1,1.02)">3500</text>
<text transform="translate(1195,2011.5) scale(1,1.02)">2200</text>
<text transform="translate(1495.3,2011.5) scale(1,1.02)">2100</text>
<text transform="translate(1793.3,2011.5) scale(1,1.02)">2000</text>
</g>
<text x="546.5" y="2179" font-size="99.6">Wavenumber, cm<tspan font-size="54" dx="0" dy="-55">−1</tspan></text>
<text transform="translate(102,1417.5) rotate(-90)" font-size="98">Absorbance, a.u.</text>
<g font-size="69.3">
<text transform="translate(429,155) scale(1,1.04)">3685</text>
<text transform="translate(274,239) scale(1,1.04)">3689</text>
<text transform="translate(590.5,262) scale(1,1.04)">3615</text>
<text transform="translate(492,452) scale(1,1.04)">3656</text>
<text transform="translate(612,532.5) scale(1,1.04)">3636</text>
<text transform="translate(218,553.7) scale(1,1.04)">3726</text>
<text transform="translate(277,802) scale(1,1.04)">3692</text>
<text transform="translate(533,779.5) scale(1,1.04)">3684</text>
<text transform="translate(211,1000) scale(1,1.04)">3726</text>
<text transform="translate(278,1352.5) scale(1,1.04)">3690</text>
<text transform="translate(1049.6,522) scale(1,1.04)" font-size="74.2">NC</text>
<text transform="translate(1050.9,1062.5) scale(1,1.04)" font-size="74.2">NP</text>
<text transform="translate(1049.6,1647) scale(1,1.04)" font-size="74.2">NR</text>
<text transform="translate(1539.3,517) scale(1,1.04)" font-size="74.2">0.2</text>
</g>
<g font-size="69.3">
<text transform="translate(874.3,547.5) rotate(-90) scale(1,1.04)">3534</text>
<text transform="translate(1422.6,257.5) rotate(-90) scale(1,1.04)">2133</text>
<text transform="translate(595.3,1058.5) rotate(-90) scale(1,1.04)">3656</text>
<text transform="translate(947.5,1071.5) rotate(-90) scale(1,1.04)">3504</text>
<text transform="translate(632.3,1334) rotate(-90) scale(1,1.04)">3639</text>
<text transform="translate(438.3,1647.7) rotate(-90) scale(1,1.04)">3726</text>
<text transform="translate(511.8,1648.5) rotate(-90) scale(1,1.04)">3692</text>
<text transform="translate(600,1616) rotate(-90) scale(1,1.04)">3653</text>
<text transform="translate(1434.6,1362.5) rotate(-90) scale(1,1.04)">2126</text>
<text transform="translate(1530.6,1388.5) rotate(-90) scale(1,1.04)">2095</text>
<text transform="translate(1419.3,1646.5) rotate(-90) scale(1,1.04)">2132</text>
<text transform="translate(1487,1666) rotate(-90) scale(1,1.04)">2108</text>
</g>
<g font-size="70" class="i">
<text x="1718.5" y="389" class="i">b</text>
<text x="1717.5" y="667.5" class="i">a</text>
<text x="1719" y="952" class="i">d</text>
<text x="1720" y="1223" class="i">c</text>
<text x="1730" y="1555" class="i">f</text>
<text x="1717" y="1845.5" class="i">e</text>
</g>
<g class="k" stroke-linecap="butt">
<line x1="507" y1="161" x2="507" y2="195" stroke-width="6"/>
<line x1="448" y1="221.75" x2="481" y2="221.75" stroke-width="3.6"/>
<line x1="671" y1="279" x2="671" y2="315" stroke-width="6"/>
<line x1="576" y1="473.75" x2="576" y2="501" stroke-width="6"/>
<line x1="662.5" y1="542.5" x2="625" y2="578.75" stroke-width="6"/>
<line x1="373.75" y1="538" x2="407.5" y2="538" stroke-width="3.6"/>
<line x1="855" y1="567.5" x2="855" y2="602.5" stroke-width="3.6"/>
<line x1="451" y1="785.5" x2="483.75" y2="785.5" stroke-width="3.6"/>
<line x1="550" y1="790" x2="523.75" y2="838.75" stroke-width="6"/>
<line x1="1403" y1="276.25" x2="1403" y2="312.5" stroke-width="3.6"/>
<line x1="367" y1="984.5" x2="400" y2="984.5" stroke-width="3.6"/>
<line x1="576" y1="1061" x2="576" y2="1096" stroke-width="3.6"/>
<line x1="928.25" y1="1089.5" x2="928.25" y2="1125.75" stroke-width="3.6"/>
<line x1="452" y1="1336.5" x2="485" y2="1336.5" stroke-width="3.6"/>
<line x1="612" y1="1352.5" x2="612" y2="1388" stroke-width="3.6"/>
<line x1="417.5" y1="1666" x2="417.5" y2="1702.5" stroke-width="3.6"/>
<line x1="492" y1="1668" x2="492" y2="1704.5" stroke-width="3.6"/>
<line x1="580" y1="1635" x2="580" y2="1671" stroke-width="3.6"/>
<line x1="1414.5" y1="1380" x2="1414.5" y2="1417.5" stroke-width="3.6"/>
<line x1="1510" y1="1407.5" x2="1510" y2="1443.75" stroke-width="3.6"/>
<line x1="1400" y1="1436.25" x2="1400" y2="1472.5" stroke-width="3.6"/>
<line x1="1467" y1="1456.25" x2="1467" y2="1492.5" stroke-width="3.6"/>
</g>
<line class="k" x1="1517" y1="417.6" x2="1517" y2="570" stroke-width="7.6" stroke-linecap="round"/>
<line class="k" x1="1100.72" y1="433.653" x2="1075.94" y2="407.706" stroke-width="7.2" stroke-linecap="round"/>
<polygon fill="#000" points="1053.5,384.2 1084.2,402.592 1070.45,415.713"/>
<line class="k" x1="1100.77" y1="551.198" x2="1075.04" y2="580.265" stroke-width="7.2" stroke-linecap="round"/>
<polygon fill="#000" points="1053.5,604.6 1069.25,572.471 1083.48,585.065"/>
<line class="k" x1="1100.77" y1="973.609" x2="1077.65" y2="947.736" stroke-width="7.2" stroke-linecap="round"/>
<polygon fill="#000" points="1056,923.5 1086.07,942.898 1071.9,955.557"/>
<line class="k" x1="1100.26" y1="1089.49" x2="1075.21" y2="1117.41" stroke-width="7.2" stroke-linecap="round"/>
<polygon fill="#000" points="1053.5,1141.6 1069.47,1109.58 1083.61,1122.27"/>
<line class="k" x1="1080.76" y1="1557.86" x2="1056.97" y2="1531.38" stroke-width="7.2" stroke-linecap="round"/>
<polygon fill="#000" points="1035.25,1507.2 1065.37,1526.52 1051.24,1539.21"/>
<line class="k" x1="1087.79" y1="1673.71" x2="1062.31" y2="1703.06" stroke-width="7.2" stroke-linecap="round"/>
<polygon fill="#000" points="1041,1727.6 1056.44,1695.32 1070.79,1707.78"/>
</svg>
</body></html>
